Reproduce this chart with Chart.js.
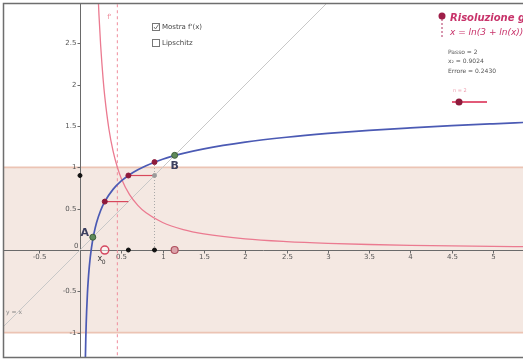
<!DOCTYPE html>
<html lang="it">
<head>
<meta charset="utf-8">
<title>Risoluzione grafica</title>
<script src="https://cdn.jsdelivr.net/npm/chart.js@4.4.1/dist/chart.umd.min.js"></script>
<style>
    html, body { margin: 0; padding: 0; background: #fff; }
    canvas { display: block; }
</style>
</head>
<body>
<canvas id="grafico" width="523" height="361"></canvas>
<script>
// g(x) = ln(3 + ln(x))
const curvaX = [0.063, 0.065, 0.07, 0.075, 0.08, 0.09, 0.1, 0.11, 0.12, 0.13, 0.15, 0.17, 0.2, 0.25, 0.3, 0.4, 0.5, 0.6, 0.7, 0.8, 1, 1.25, 1.5, 2, 2.5, 3, 3.5, 4, 4.5, 5, 5.4]
const curvaY = [-1.448, -1.321, -1.076, -0.892, -0.747, -0.524, -0.361, -0.232, -0.128, -0.041, 0.098, 0.205, 0.330, 0.479, 0.586, 0.734, 0.836, 0.912, 0.972, 1.021, 1.099, 1.170, 1.225, 1.306, 1.365, 1.411, 1.448, 1.478, 1.505, 1.528, 1.545]

// g'(x)
const derivX = [0.215, 0.23, 0.25, 0.28, 0.3, 0.35, 0.4, 0.45, 0.5, 0.6, 0.7, 0.8, 1, 1.25, 1.5, 2, 2.5, 3, 3.5, 4, 4.5, 5, 5.4]
const derivY = [3.18, 2.84, 2.478, 2.068, 1.856, 1.465, 1.200, 1.010, 0.867, 0.670, 0.541, 0.450, 0.333, 0.248, 0.196, 0.135, 0.102, 0.081, 0.067, 0.057, 0.049, 0.043, 0.040]

// iterazioni x(n+1) = g(x(n)), passo 2
const iterX = [0.3, 0.586, 0.902]
const iterY = [0.586, 0.902, 1.064]

const puntoA = [0.155, 0.155]
const puntoB = [1.146, 1.146]
const xDerivUno = 0.452   // dove g'(x) = 1
const limiteBanda = 1

const tickX = [-0.5, 0.5, 1, 1.5, 2, 2.5, 3, 3.5, 4, 4.5, 5]
const tickY = [-1, -0.5, 0.5, 1, 1.5, 2, 2.5]
const rangeX = [-0.92, 5.363]
const rangeY = [-1.295, 2.978]

const testoInfo = ['Passo = 2', 'x₂ = 0.9024', 'Errore = 0.2430']

const coppie = (xs, ys) => xs.map((x, i) => ({ x: x, y: ys[i] }))

const linea = {
    showLine: true,
    pointRadius: 0,
    pointHoverRadius: 0,
    fill: false,
    borderWidth: 1
}

const datasets = [
    { ...linea, label: 'banda', data: [{ x: -2, y: limiteBanda }, { x: 7, y: limiteBanda }],
        fill: { value: -limiteBanda }, backgroundColor: '#f4e8e2', borderColor: '#ecc4b4', borderWidth: 1.6, order: 10 },
    { ...linea, label: 'bandaInf', data: [{ x: -2, y: -limiteBanda }, { x: 7, y: -limiteBanda }],
        borderColor: '#ecc4b4', borderWidth: 1.6, order: 9 },
    { ...linea, label: 'derivUno', data: [{ x: xDerivUno, y: -2 }, { x: xDerivUno, y: 4 }],
        borderColor: '#f08c9c', borderDash: [3, 3], order: 8 },
    { ...linea, label: 'y = x', data: [{ x: -2, y: -2 }, { x: 4, y: 4 }],
        borderColor: '#c8c8c8', order: 7 },
    { ...linea, label: 'verticale', data: [{ x: iterX[2], y: 0 }, { x: iterX[2], y: iterY[2] }],
        borderColor: '#a8a8a8', borderDash: [1, 2], order: 7 },
    { ...linea, label: "g'", data: coppie(derivX, derivY),
        borderColor: '#eb7a90', borderWidth: 1.3, cubicInterpolationMode: 'monotone', order: 5 },
    { ...linea, label: 'g', data: coppie(curvaX, curvaY),
        borderColor: '#4b5ab4', borderWidth: 1.7, cubicInterpolationMode: 'monotone', order: 4 }
]

// segmenti orizzontali della costruzione
for (let i = 0; i < iterX.length - 1; i++) {
    datasets.push({ ...linea, label: 'passo' + i,
        data: [{ x: iterX[i], y: iterY[i] }, { x: iterX[i + 1], y: iterY[i] }],
        borderColor: '#d8485c', borderWidth: 1.2, order: 3 })
}

const punto = { showLine: false, pointHoverRadius: 0, order: 1 }

datasets.push(
    { ...punto, label: 'iterate', data: coppie(iterX, iterY), pointRadius: 2.5,
        pointBackgroundColor: '#8e1b3c', pointBorderColor: '#8e1b3c' },
    { ...punto, label: 'bisettrice', data: [{ x: iterX[2], y: iterX[2] }], pointRadius: 2,
        pointBackgroundColor: '#9a9a9a', pointBorderColor: '#9a9a9a' },
    { ...punto, label: 'asseX', data: iterX.slice(1).map(x => ({ x: x, y: 0 })), pointRadius: 2,
        pointBackgroundColor: '#111', pointBorderColor: '#111' },
    { ...punto, label: 'asseY', data: [{ x: 0, y: iterX[2] }], pointRadius: 2,
        pointBackgroundColor: '#111', pointBorderColor: '#111' },
    { ...punto, label: 'x0', data: [{ x: iterX[0], y: 0 }], pointRadius: 4, pointBorderWidth: 1.5,
        pointBackgroundColor: 'rgba(255,255,255,0.5)', pointBorderColor: '#d44860' },
    { ...punto, label: 'radice', data: [{ x: puntoB[0], y: 0 }], pointRadius: 3.5, pointBorderWidth: 1.2,
        pointBackgroundColor: '#dba2aa', pointBorderColor: '#b0505e' },
    { ...punto, label: 'AB', data: [{ x: puntoA[0], y: puntoA[1] }, { x: puntoB[0], y: puntoB[1] }], pointRadius: 3,
        pointBackgroundColor: '#5f8a5a', pointBorderColor: '#3e5e3a' }
)

// assi disegnati sopra la banda, sotto le curve
const assi = {
    id: 'assi',
    afterDatasetDraw(chart, args) {
        if (chart.data.datasets[args.index].label !== 'bandaInf') return
        const ctx = chart.ctx
        const area = chart.chartArea
        const sx = chart.scales.x
        const sy = chart.scales.y
        const x0 = Math.round(sx.getPixelForValue(0)) + 0.5
        const y0 = Math.round(sy.getPixelForValue(0)) + 0.5

        ctx.save()
        ctx.strokeStyle = '#6a6a6a'
        ctx.lineWidth = 1
        ctx.beginPath()
        ctx.moveTo(area.left, y0)
        ctx.lineTo(area.right, y0)
        ctx.moveTo(x0, area.top)
        ctx.lineTo(x0, area.bottom)
        ctx.stroke()

        ctx.fillStyle = '#555'
        ctx.font = '7px "DejaVu Sans"'
        ctx.textAlign = 'center'
        ctx.textBaseline = 'middle'
        tickX.forEach(v => {
            const px = Math.round(sx.getPixelForValue(v)) + 0.5
            ctx.beginPath()
            ctx.moveTo(px, y0)
            ctx.lineTo(px, y0 + 3)
            ctx.stroke()
            ctx.fillText(String(v), px, y0 + 7)
        })
        ctx.textAlign = 'right'
        tickY.forEach(v => {
            const py = Math.round(sy.getPixelForValue(v)) + 0.5
            ctx.beginPath()
            ctx.moveTo(x0 - 3, py)
            ctx.lineTo(x0, py)
            ctx.stroke()
            ctx.fillText(String(v), x0 - 4, py)
        })
        ctx.fillText('0', x0 - 2, y0 - 4)
        ctx.restore()
    }
}

// etichette dei punti, pannello e cornice
const etichette = {
    id: 'etichette',
    afterDraw(chart) {
        const ctx = chart.ctx
        const area = chart.chartArea
        const sx = chart.scales.x
        const sy = chart.scales.y
        const px = v => sx.getPixelForValue(v)
        const py = v => sy.getPixelForValue(v)

        ctx.save()
        ctx.textBaseline = 'middle'
        ctx.textAlign = 'center'

        ctx.fillStyle = '#3d4060'
        ctx.font = 'bold 11px "DejaVu Sans"'
        ctx.fillText('A', px(puntoA[0]) - 8, py(puntoA[1]) - 4)
        ctx.fillText('B', px(puntoB[0]), py(puntoB[1]) + 11)

        ctx.font = '8px "DejaVu Sans"'
        ctx.fillStyle = '#333'
        ctx.fillText('x', px(iterX[0]) - 5, py(0) + 9)
        ctx.font = '6px "DejaVu Sans"'
        ctx.fillText('0', px(iterX[0]) - 1, py(0) + 12)

        ctx.fillStyle = '#888'
        ctx.font = '6px "DejaVu Sans"'
        ctx.textAlign = 'left'
        ctx.fillText('y = x', area.left + 2, py(-0.75))

        ctx.fillStyle = '#ee8898'
        ctx.font = '7px "DejaVu Sans"'
        ctx.fillText("f'", px(0.33), py(2.82))

        // caselle di controllo
        const caselle = [[156, 27, "Mostra f'(x)", true], [156, 43, 'Lipschitz', false]]
        caselle.forEach(([cx, cy, testo, spunta]) => {
            ctx.fillStyle = '#fff'
            ctx.fillRect(cx - 3.5, cy - 3.5, 7, 7)
            ctx.strokeStyle = '#777'
            ctx.lineWidth = 1
            ctx.strokeRect(cx - 3.5, cy - 3.5, 7, 7)
            if (spunta) {
                ctx.beginPath()
                ctx.moveTo(cx - 2, cy)
                ctx.lineTo(cx - 0.5, cy + 2)
                ctx.lineTo(cx + 2.5, cy - 2.5)
                ctx.stroke()
            }
            ctx.fillStyle = '#444'
            ctx.font = '7px "DejaVu Sans"'
            ctx.fillText(testo, cx + 6, cy)
        })

        // cursore verticale e titolo
        ctx.strokeStyle = '#b03060'
        ctx.setLineDash([2, 2])
        ctx.beginPath()
        ctx.moveTo(442, 15)
        ctx.lineTo(442, 38)
        ctx.stroke()
        ctx.setLineDash([])
        ctx.fillStyle = '#9e1e48'
        ctx.beginPath()
        ctx.arc(442, 16, 3.5, 0, Math.PI * 2)
        ctx.fill()

        ctx.fillStyle = '#c8336a'
        ctx.font = 'italic bold 10px "DejaVu Sans"'
        ctx.fillText('Risoluzione grafica', 450, 18)
        ctx.font = 'italic 9px "DejaVu Sans"'
        ctx.fillText('x = ln(3 + ln(x))', 450, 33)

        ctx.fillStyle = '#555'
        ctx.font = '6px "DejaVu Sans"'
        testoInfo.forEach((t, i) => ctx.fillText(t, 448, 52 + i * 9.5))

        // cursore n
        ctx.fillStyle = '#eea0b0'
        ctx.font = '5px "DejaVu Sans"'
        ctx.fillText('n = 2', 453, 91)
        ctx.strokeStyle = '#e25a78'
        ctx.lineWidth = 2
        ctx.beginPath()
        ctx.moveTo(452, 102)
        ctx.lineTo(487, 102)
        ctx.stroke()
        ctx.fillStyle = '#8e1b3c'
        ctx.beginPath()
        ctx.arc(459, 102, 3.5, 0, Math.PI * 2)
        ctx.fill()

        // cornice
        ctx.strokeStyle = '#6e6e6e'
        ctx.lineWidth = 1.5
        ctx.beginPath()
        ctx.moveTo(area.right + 2, area.top - 0.5)
        ctx.lineTo(area.left - 0.5, area.top - 0.5)
        ctx.lineTo(area.left - 0.5, area.bottom + 0.5)
        ctx.lineTo(area.right + 2, area.bottom + 0.5)
        ctx.stroke()
        ctx.restore()
    }
}

new Chart(document.getElementById('grafico'), {
    type: 'scatter',
    data: { datasets: datasets },
    options: {
        responsive: false,
        animation: false,
        devicePixelRatio: 1,
        layout: { autoPadding: false, padding: { left: 4, top: 4, right: 0, bottom: 4 } },
        scales: {
            x: { type: 'linear', min: rangeX[0], max: rangeX[1], display: false },
            y: { type: 'linear', min: rangeY[0], max: rangeY[1], display: false }
        },
        plugins: {
            legend: { display: false },
            tooltip: { enabled: false }
        }
    },
    plugins: [assi, etichette]
})
</script>
</body>
</html>
